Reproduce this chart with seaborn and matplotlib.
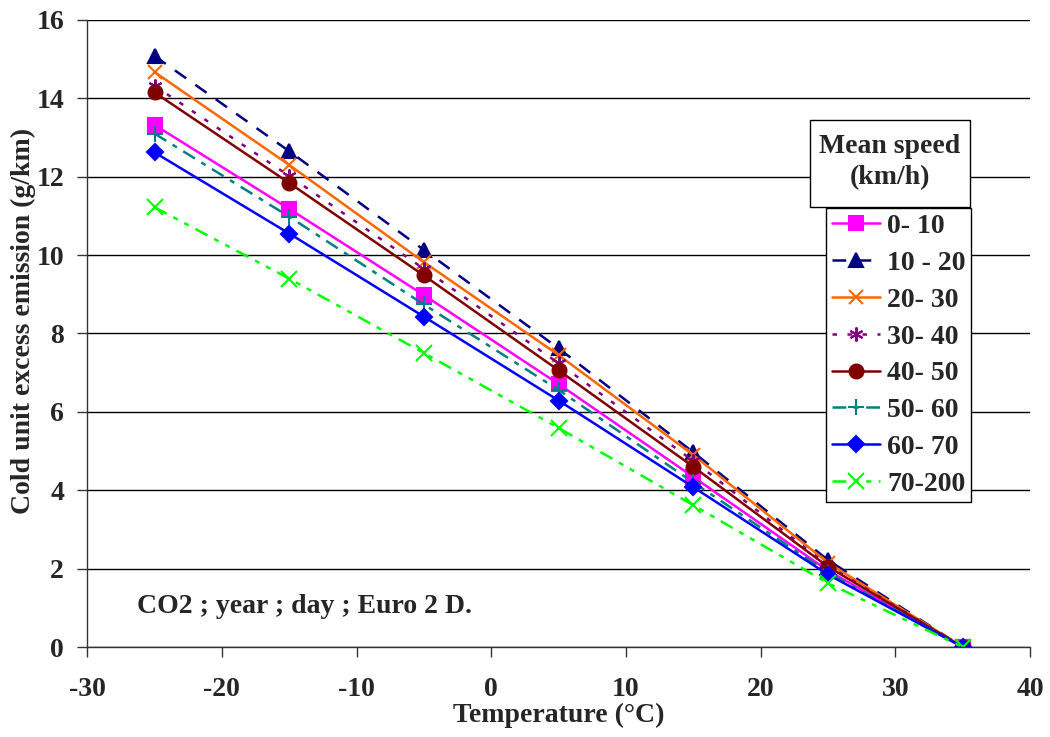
import numpy as np
import pandas as pd
import matplotlib
matplotlib.use("Agg")
import matplotlib.pyplot as plt
from matplotlib.patches import Rectangle
import seaborn as sns

# temperatures (°C)
temps = [-25, -15, -5, 5, 15, 25, 35]

# cold unit excess emission (g/km) per mean speed class
speed_classes = ["0- 10", "10 - 20", "20- 30", "30- 40", "40- 50", "50- 60", "60- 70", "70-200"]
v_0_10 = [13.32, 11.18, 8.98, 6.71, 4.34, 1.95, 0.0]
v_10_20 = [15.08, 12.65, 10.13, 7.62, 4.97, 2.22, 0.0]
v_20_30 = [14.67, 12.30, 9.82, 7.45, 4.90, 2.15, 0.0]
v_30_40 = [14.32, 12.02, 9.65, 7.24, 4.75, 2.08, 0.0]
v_40_50 = [14.15, 11.84, 9.48, 7.06, 4.60, 2.05, 0.0]
v_50_60 = [13.10, 10.98, 8.74, 6.56, 4.20, 1.90, 0.0]
v_60_70 = [12.62, 10.55, 8.43, 6.29, 4.08, 1.85, 0.0]
v_70_200 = [11.22, 9.40, 7.50, 5.59, 3.62, 1.63, 0.0]

values = [v_0_10, v_10_20, v_20_30, v_30_40, v_40_50, v_50_60, v_60_70, v_70_200]

colors = ["#FF00FF", "#000080", "#FF6600", "#800080", "#800000", "#008080", "#0000FF", "#00FF00"]
markers = ["s", "^", "x", (6, 2, 0), "o", "+", "D", "x"]
dashes = ["", (5.5, 4.5), "", (1.8, 4.2), "", (5.5, 3, 2, 3), "", (5.5, 3, 2, 3, 2, 3)]
msizes = [10, 10, 10, 10, 10, 12, 8, 11]

rows = []
for name, vals in zip(speed_classes, values):
    for t, v in zip(temps, vals):
        rows.append({"temp": t, "emission": v, "speed": name})
df = pd.DataFrame(rows)

sns.set_style("white")
plt.rcParams["font.family"] = ["Liberation Serif", "DejaVu Serif"]
plt.rcParams["font.weight"] = "bold"
plt.rcParams["axes.unicode_minus"] = False

fig = plt.figure(figsize=(10.5, 7.37), dpi=100)
ax = fig.add_axes([0.083, 0.122, 0.898, 0.851])

sns.lineplot(data=df, x="temp", y="emission", hue="speed", style="speed",
             hue_order=speed_classes, style_order=speed_classes,
             palette=dict(zip(speed_classes, colors)),
             dashes=dict(zip(speed_classes, dashes)),
             linewidth=1.8, legend=False, ax=ax)

lines = ax.lines[:len(speed_classes)]
for ln, mk, ms in zip(lines, markers, msizes):
    ln.set_marker(mk)
    ln.set_markerfacecolor(ln.get_color())
    ln.set_markeredgecolor(ln.get_color())
    ln.set_markersize(ms)
    ln.set_markeredgewidth(1.5)

ax.set_xlim(-30, 40)
ax.set_ylim(0, 16)
ax.set_xticks(range(-30, 41, 10))
ax.set_yticks(range(0, 17, 2))
ax.yaxis.grid(True, color="black", linewidth=1.0)
ax.set_axisbelow(True)
for s in ["top", "right"]:
    ax.spines[s].set_visible(False)
for s in ["left", "bottom"]:
    ax.spines[s].set_color("#333333")
    ax.spines[s].set_linewidth(1.0)
ax.tick_params(axis="both", direction="out", length=7, width=1.0, color="#333333",
               labelsize=20, left=True, bottom=True)
ax.tick_params(axis="x", pad=14.5)
ax.tick_params(axis="y", pad=9.5)
for lab in ax.get_xticklabels() + ax.get_yticklabels():
    lab.set_fontweight("bold")

ax.set_xlabel("Temperature (°C)", fontsize=20, fontweight="bold", labelpad=1)
ax.set_ylabel("Cold unit excess emission (g/km)", fontsize=20, fontweight="bold")
ax.yaxis.set_label_coords(-0.054, 0.52)

ax.text(0.053, 0.054, "CO2 ; year ; day ; Euro 2 D.", transform=ax.transAxes,
        fontsize=20, fontweight="bold", va="baseline", ha="left")

# legend with separate title box
leg = ax.legend(lines, speed_classes, loc="upper left", bbox_to_anchor=(0.7837, 0.700), frameon=True,
                fancybox=False, edgecolor="black", framealpha=1, fontsize=20, handlelength=1.75,
                borderpad=0.2, labelspacing=0.41, handletextpad=0.25, borderaxespad=0)
leg.get_frame().set_linewidth(1.0)
leg.set_zorder(10)
for t in leg.get_texts():
    t.set_fontweight("bold")

ax.add_patch(Rectangle((0.7667, 0.7018), 0.1697, 0.1387, transform=ax.transAxes,
                       facecolor="white", edgecolor="black", linewidth=1.0, zorder=11,
                       clip_on=False))
ax.text(0.8515, 0.7735, "Mean speed\n(km/h)", transform=ax.transAxes, ha="center", va="center",
        fontsize=20, fontweight="bold", linespacing=1.3, zorder=12)

fig.savefig("out.png", dpi=100)
